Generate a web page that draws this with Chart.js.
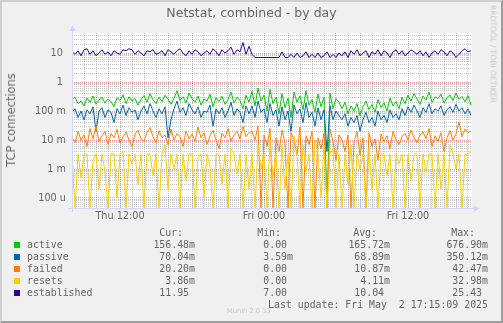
<!DOCTYPE html>
<html>
<head>
<meta charset="utf-8">
<script src="https://cdn.jsdelivr.net/npm/chart.js@4.4.0/dist/chart.umd.min.js"></script>
<style>
html, body { margin: 0; padding: 0; }
body { width: 503px; height: 323px; overflow: hidden; background: #f0f0f0; position: relative; font-family: "DejaVu Sans", sans-serif; color: #666; }
#frame { position: absolute; left: 0; top: 0; width: 499px; height: 319px; border: 2px solid; border-color: #cfcfcf #9e9e9e #9e9e9e #cfcfcf; pointer-events: none; }
#chart { position: absolute; left: 0; top: 0; }
.title { position: absolute; left: 0; width: 503px; top: 5px; text-align: center; font-size: 12.5px; }
.ytitle { position: absolute; left: 11px; top: 120px; transform: translate(-50%, -50%) rotate(-90deg); font-size: 11.4px; white-space: nowrap; }
.rrd { position: absolute; left: 493px; top: 54px; transform: translate(-50%, -50%) rotate(90deg); font-size: 7.6px; color: #c4c4c4; white-space: nowrap; }
.mono { position: absolute; font-family: "DejaVu Sans Mono", monospace; font-size: 9.9px; line-height: 12px; white-space: pre; }
.sw { position: absolute; width: 6px; height: 6px; }
.munin { position: absolute; left: 227px; top: 307px; font-size: 6.7px; color: #c8c8c8; white-space: nowrap; }
</style>
</head>
<body>
<canvas id="chart" width="503" height="323"></canvas>
<div class="title">Netstat, combined - by day</div>
<div class="ytitle">TCP connections</div>
<div class="rrd">RRDTOOL / TOBI OETIKER</div>
<div id="legend"></div>
<div class="munin">Munin 2.0.33</div>
<div id="frame"></div>
<script>
// 15 minute samples, Thu 08:00 .. Fri 17:15 (hours since Thu 00:00)
var hours = Array.from({length: 134}, (_, i) => 8 + i * 0.25);

var active = [
  0.25,0.30,0.18,0.22,0.15,0.28,0.20,0.33,0.17,0.24,
  0.30,0.19,0.26,0.21,0.14,0.29,0.23,0.36,0.18,0.31,
  0.22,0.27,0.16,0.25,0.34,0.20,0.40,0.24,0.18,0.30,
  0.21,0.35,0.26,0.17,0.28,0.50,0.23,0.31,0.19,0.42,
  0.27,0.20,0.33,0.16,0.26,0.22,0.38,0.14,0.29,0.21,
  0.32,0.17,0.25,0.45,0.19,0.30,0.23,0.12,0.35,0.20,
  0.48,0.15,0.62,0.22,0.35,0.10,0.55,0.18,0.30,0.08,
  0.40,0.13,0.28,0.06,0.45,0.20,0.33,0.11,0.50,0.16,
  0.25,0.09,0.38,0.14,0.30,0,0.42,0.12,0.27,0.20,
  0.12,0.20,0.08,0.15,0.10,0.18,0.07,0.14,0.22,0.11,
  0.17,0.09,0.25,0.13,0.19,0.10,0.28,0.15,0.21,0.12,
  0.30,0.18,0.35,0.22,0.40,0.26,0.17,0.33,0.24,0.45,
  0.20,0.31,0.27,0.38,0.19,0.29,0.36,0.23,0.42,0.25,
  0.32,0.21,0.34,0.16
];
var passive = [
  0.09,0.12,0.06,0.10,0.05,0.11,0.08,0.14,0.02,0.10,
  0.13,0.06,0.11,0.09,0.04,0.12,0.08,0.16,0.07,0.13,
  0.09,0.11,0.05,0.10,0.15,0.08,0.18,0.10,0.06,0.12,
  0.08,0.14,0.012,0.05,0.12,0.22,0.09,0.13,0.07,0.18,
  0.11,0.08,0.14,0.06,0.10,0.09,0.16,0.03,0.12,0.08,
  0.13,0.06,0.10,0.20,0.07,0.12,0.09,0.04,0.15,0.08,
  0.15,0.06,0.22,0.09,0.12,0.04,0.18,0.07,0.11,0.03,
  0.14,0.05,0.10,0.02,0.16,0.08,0.12,0.04,0.19,0.06,
  0.09,0.03,0.13,0.05,0.11,0.004,0.15,0.05,0.10,0.07,
  0.05,0.08,0.03,0.06,0.04,0.07,0.02,0.05,0.09,0.04,
  0.06,0.03,0.10,0.05,0.07,0.04,0.11,0.06,0.08,0.05,
  0.12,0.07,0.14,0.09,0.16,0.10,0.06,0.13,0.09,0.18,
  0.08,0.12,0.10,0.15,0.07,0.11,0.14,0.09,0.17,0.10,
  0.13,0.08,0.12,0.07
];
var failed = [
  0.012,0.008,0.020,0.010,0.015,0.006,0.025,0.011,0.030,0.009,
  0.014,0.020,0.007,0.017,0.012,0.023,0.008,0.013,0.019,0.010,
  0.006,0.016,0.022,0.011,0.009,0.018,0.027,0.013,0.008,0.021,
  0.012,0.015,0.007,0.024,0.010,0.017,0.013,0.006,0.020,0.011,
  0.016,0.009,0.028,0.012,0.018,0.007,0.014,0.022,0.010,0.005,
  0.017,0.012,0.025,0.009,0.015,0.020,0.011,0.030,0.013,0.018,
  0.020,0.010,0.030,0,0.015,0.006,0.025,0,0.012,0.004,
  0.022,0.008,0,0.018,0.010,0.003,0.028,0,0.014,0.007,
  0.020,0,0.012,0.005,0.017,0,0.024,0.009,0.002,0.015,
  0.010,0.004,0.015,0,0.008,0.020,0.003,0.012,0,0.018,
  0.006,0.011,0.002,0.016,0.009,0.014,0.005,0.020,0.010,0.007,
  0.013,0.017,0.010,0.022,0.012,0.008,0.015,0.019,0.011,0.025,
  0.006,0.014,0.009,0.018,0.004,0.012,0.021,0.010,0.016,0.042,
  0.013,0.024,0.018,0.020
];
var resets = [
  0.0033,0,0.0033,0.0005,0.0033,0.0033,0,0.0020,0.0033,0.0002,
  0.0033,0.0008,0,0.0033,0.0033,0.0001,0.0033,0.0040,0,0.0033,
  0.0015,0.0033,0.0003,0.0033,0,0.0033,0.0033,0.0006,0.0033,0,
  0.0033,0.0067,0.0002,0.0033,0.0010,0.0033,0,0.0033,0.0004,0.0033,
  0.0033,0,0.0025,0.0033,0.0001,0.0033,0.0012,0,0.0033,0.0033,
  0.0003,0.0033,0,0.0050,0.0033,0.0007,0.0033,0,0.0033,0.0002,
  0.0033,0,0.0067,0.0010,0.0033,0,0.0100,0.0005,0.0033,0,
  0.0067,0.0002,0.0033,0,0.0133,0.0033,0,0.0067,0.0008,0.0033,
  0,0.0100,0.0033,0.0001,0.0067,0,0.0033,0.0050,0,0.0033,
  0,0.0033,0.0003,0.0067,0,0.0033,0.0010,0.0033,0,0.0050,
  0.0002,0.0033,0,0.0033,0.0033,0.0006,0.0033,0,0.0033,0.0015,
  0.0033,0,0.0033,0.0004,0.0033,0.0033,0,0.0033,0.0008,0.0033,
  0.0033,0,0.0033,0.0002,0.0033,0,0.0067,0.0033,0.0010,0.0033,
  0,0.0033,0.0033,0.0039
];
var established = [
  11,9,12,8,13,14,9,12,8,10,
  13,9,11,8,12,10,9,13,12,14,
  13,9,12,10,8,12,11,13,9,10,
  12,8,13,11,9,12,14,10,8,12,
  9,13,11,8,10,12,9,14,11,8,
  13,10,12,16,9,13,11,23,9,17,
  9,7,7,7,7,7,7,7,7,7,
  11,7,7,9,7,10,7,8,11,7,
  9,7,10,7,8,11,7,9,7,10,
  8,11,7,12,9,13,8,10,12,7,
  11,9,13,8,12,10,7,11,13,9,
  12,8,10,13,11,9,12,8,11,7,
  10,12,9,13,11,8,12,10,7,9,
  12,14,11,12
];

var names = ["active", "passive", "failed", "resets", "established"];
var colors = ["#00cc00", "#0066b3", "#ff8000", "#ffcc00", "#330099"];
var series = [active, passive, failed, resets, established];

var curVals = ["156.48m", "70.04m", "20.20m", "3.86m", "11.95 "];
var minVals = ["0.00 ", "3.59m", "0.00 ", "0.00 ", "7.00 "];
var avgVals = ["165.72m", "68.89m", "10.87m", "4.11m", "10.04 "];
var maxVals = ["676.90m", "350.12m", "42.47m", "32.98m", "25.43 "];

var yTicks = [0.0001, 0.001, 0.01, 0.1, 1, 10];
var yLabels = ["100 u", "1 m", "10 m", "100 m", "1 ", "10 "];
var xTicks = [12, 24, 36];
var xLabels = ["Thu 12:00", "Fri 00:00", "Fri 12:00"];

var yMin = 4.52e-5, yMax = 49;
var xMin = 8, xMax = 8 + 400 / 12;

function isDecade(v) {
    var l = Math.log10(v);
    return Math.abs(l - Math.round(l)) < 1e-6;
}

/* LEGENDA */
var leg = document.getElementById("legend");
function addText(txt, left, right, top) {
    var d = document.createElement("div");
    d.className = "mono";
    d.textContent = txt;
    d.style.top = (top - 6) + "px";
    if (left != null) d.style.left = left + "px";
    if (right != null) d.style.right = (503 - right) + "px";
    leg.appendChild(d);
}
addText("Cur:", null, 183, 233);
addText("Min:", null, 281, 233);
addText("Avg:", null, 377, 233);
addText("Max:", null, 475, 233);
names.forEach((n, i) => {
    var y = 245 + i * 12;
    var sw = document.createElement("div");
    sw.className = "sw";
    sw.style.left = "14px";
    sw.style.top = (y - 3) + "px";
    sw.style.background = colors[i];
    leg.appendChild(sw);
    addText(n, 27, null, y);
    addText(curVals[i], null, 195, y);
    addText(minVals[i], null, 293, y);
    addText(avgVals[i], null, 390, y);
    addText(maxVals[i], null, 488, y);
});
addText("Last update: Fri May  2 17:15:09 2025", null, 488, 305);

/* GRÁFICO */
var canvasBg = {
    id: "canvasBg",
    beforeDraw(chart) {
        var a = chart.chartArea, c = chart.ctx;
        c.save();
        c.fillStyle = "#ffffff";
        c.fillRect(a.left, a.top, a.right - a.left, a.bottom - a.top);
        c.restore();
    },
    afterDraw(chart) {
        var a = chart.chartArea, c = chart.ctx;
        c.save();
        c.strokeStyle = "#cfd6f8";
        c.fillStyle = "#cfd6f8";
        c.lineWidth = 1;
        c.beginPath();
        c.moveTo(a.left - 4, a.bottom + 0.5);
        c.lineTo(a.right + 3, a.bottom + 0.5);
        c.moveTo(a.left + 0.5, a.bottom + 4);
        c.lineTo(a.left + 0.5, a.top - 3);
        c.stroke();
        c.beginPath();
        c.moveTo(a.right + 8, a.bottom + 0.5);
        c.lineTo(a.right + 2, a.bottom - 2.5);
        c.lineTo(a.right + 2, a.bottom + 3.5);
        c.fill();
        c.beginPath();
        c.moveTo(a.left + 0.5, a.top - 8);
        c.lineTo(a.left - 2.5, a.top - 2);
        c.lineTo(a.left + 3.5, a.top - 2);
        c.fill();
        c.restore();
    }
};

new Chart(document.getElementById("chart"), {
    type: "line",
    data: {
        datasets: series.map((s, i) => ({
            label: names[i],
            data: s.map((v, j) => ({x: hours[j], y: v > 0 ? v : yMin})),
            borderColor: colors[i],
            borderWidth: 1,
            pointRadius: 0,
            tension: 0,
            fill: false,
            order: 5 - i
        }))
    },
    options: {
        responsive: false,
        animation: false,
        events: [],
        layout: { padding: { left: 0, right: 31, top: 33, bottom: 95 } },
        plugins: { legend: { display: false }, tooltip: { enabled: false }, title: { display: false } },
        scales: {
            x: {
                type: "linear",
                min: xMin,
                max: xMax,
                afterFit: s => { s.height = 20; },
                afterBuildTicks: s => {
                    var t = [];
                    for (var h = 8; h <= 41; h++) t.push({value: h});
                    s.ticks = t;
                },
                ticks: {
                    autoSkip: false,
                    maxRotation: 0,
                    padding: 3,
                    color: "#666",
                    font: { family: "DejaVu Sans", size: 9.7 },
                    callback: v => {
                        var k = xTicks.indexOf(v);
                        return k >= 0 ? xLabels[k] : "";
                    }
                },
                grid: {
                    drawTicks: false,
                    lineWidth: 1,
                    color: ctx => (ctx.tick && ctx.tick.value % 6 === 0) ? "rgba(255,0,0,0.4)" : "rgba(128,128,128,0.45)"
                },
                border: { display: false, dash: [1, 1] }
            },
            y: {
                type: "logarithmic",
                min: yMin,
                max: yMax,
                afterFit: s => { s.width = 72; },
                afterBuildTicks: s => {
                    var t = [];
                    for (var e = -5; e <= 1; e++) {
                        for (var k = 1; k <= 9; k++) {
                            var v = k * Math.pow(10, e);
                            if (v >= yMin && v <= yMax) t.push({value: v});
                        }
                    }
                    s.ticks = t;
                },
                ticks: {
                    autoSkip: false,
                    padding: 6,
                    color: "#666",
                    font: { family: "DejaVu Sans", size: 9.7 },
                    callback: v => {
                        for (var j = 0; j < yTicks.length; j++) {
                            if (Math.abs(Math.log10(v) - Math.log10(yTicks[j])) < 1e-6) return yLabels[j];
                        }
                        return "";
                    }
                },
                grid: {
                    drawTicks: false,
                    lineWidth: 1,
                    color: ctx => (ctx.tick && isDecade(ctx.tick.value)) ? "rgba(255,0,0,0.4)" : "rgba(128,128,128,0.45)"
                },
                border: { display: false, dash: [1, 1] }
            }
        }
    },
    plugins: [canvasBg]
});
</script>
</body>
</html>
